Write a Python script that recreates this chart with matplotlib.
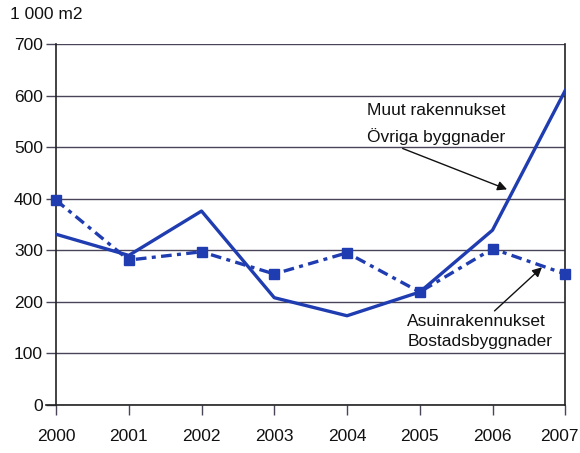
import matplotlib
matplotlib.use("Agg")
import matplotlib.pyplot as plt
from matplotlib.transforms import ScaledTranslation

plt.rcParams['font.family'] = ['Liberation Sans', 'DejaVu Sans']

years = [2000, 2001, 2002, 2003, 2004, 2005, 2006, 2007]
ovriga = [331, 290, 376, 208, 173, 219, 339, 610]   # Muut rakennukset / Övriga byggnader
bostad = [397, 281, 297, 254, 295, 219, 303, 254]   # Asuinrakennukset / Bostadsbyggnader
yticks = [0, 100, 200, 300, 400, 500, 600, 700]

BLUE = '#1f3cb0'
GRID = '#4a4458'
TXT = '#111111'
FS = 12.5

fig = plt.figure(figsize=(5.8, 4.53), dpi=100)
ax = fig.add_axes([0.0966, 0.106, 0.878, 0.797])

ax.plot(years, ovriga, '-', color=BLUE, lw=2.4, zorder=3)
ax.plot(years, bostad, color=BLUE, lw=2.4, dashes=(3.2, 1.6, 1.2, 1.6),
        marker='s', ms=7, zorder=3, clip_on=False)

ax.set_xlim(2000, 2007)
ax.set_ylim(0, 700)
ax.set_xticks(years)
ax.set_yticks(yticks)
ax.yaxis.grid(True, color=GRID, lw=1.0)
ax.set_axisbelow(True)

for side in ['top', 'bottom']:
    ax.spines[side].set_visible(False)
for side in ['left', 'right']:
    ax.spines[side].set_color('#222222')
    ax.spines[side].set_linewidth(1.2)

ax.tick_params(axis='y', direction='out', length=7.5, width=1.0, color=GRID,
               labelsize=FS, pad=2, labelcolor=TXT)
ax.tick_params(axis='x', direction='out', length=7.5, width=1.0, color=GRID,
               labelsize=FS, pad=10, labelcolor=TXT)

# last year label nudged left so it stays inside the figure
last = ax.get_xticklabels()[-1]
last.set_transform(last.get_transform() + ScaledTranslation(-6 / 100, 0, fig.dpi_scale_trans))

# zero line extends to the left tick, right spine down to the last tick
ax.plot([1999.86, 2007], [0, 0], color='#222222', lw=1.2, clip_on=False, zorder=4)

fig.text(0.017, 0.968, '1 000 m2', fontsize=FS, color=TXT, va='center')

ax.annotate('Muut rakennukset\nÖvriga byggnader', xy=(2006.2, 418),
            xytext=(2004.27, 545), fontsize=FS, color=TXT,
            linespacing=1.75, va='center',
            arrowprops=dict(arrowstyle='-|>', color='#111111', lw=1.0,
                            shrinkA=0, shrinkB=0, mutation_scale=14,
                            relpos=(0.26, -0.08)))
ax.annotate('Asuinrakennukset\nBostadsbyggnader', xy=(2006.68, 267),
            xytext=(2004.83, 177), fontsize=FS, color=TXT,
            linespacing=1.45, va='top',
            arrowprops=dict(arrowstyle='-|>', color='#111111', lw=1.0,
                            shrinkA=0, shrinkB=0, mutation_scale=14,
                            relpos=(0.58, 1.0)))

fig.savefig('out.png', dpi=100)
